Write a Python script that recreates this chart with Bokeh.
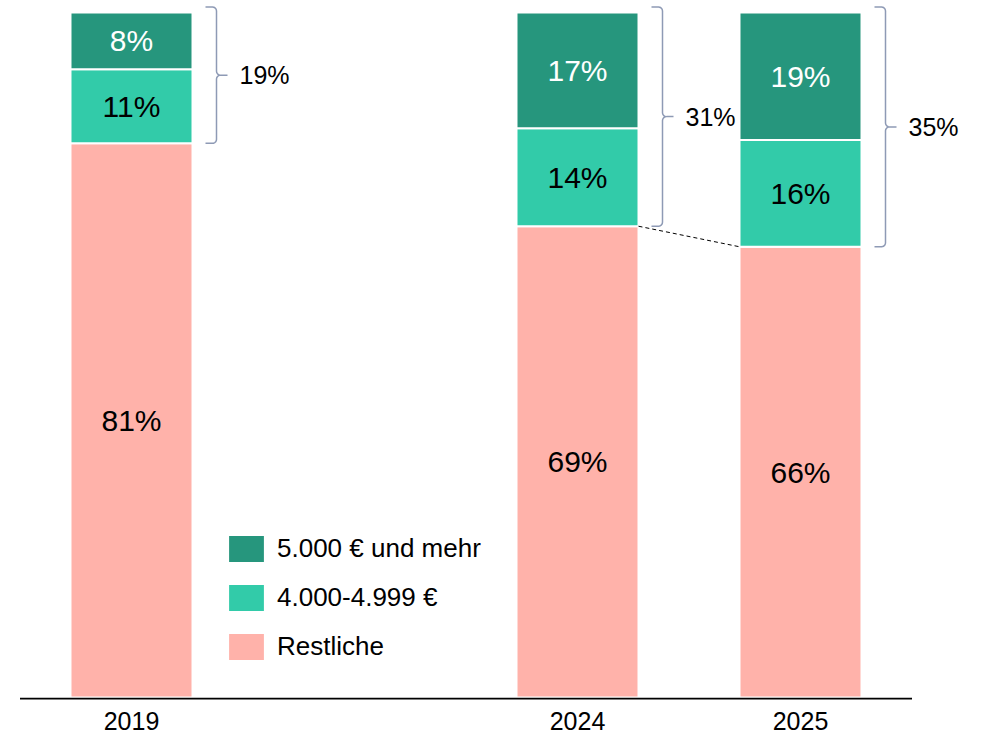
import numpy as np
from bokeh.plotting import figure
from bokeh.models import ColumnDataSource, Range1d, Legend, LegendItem
from bokeh.core.properties import value
from bokeh.embed import file_html
from bokeh.resources import INLINE

# ---------------- data ----------------
years = ["2019", "2024", "2025"]
slots = [0, 2, 3]                      # 2019 is set apart by one empty slot
series = ["Restliche", "4.000-4.999 €", "5.000 € und mehr"]
restliche = [80.9, 68.8, 65.8]
band_4000 = [10.8, 14.3, 15.6]
band_5000 = [8.3, 16.9, 18.6]
top_two_share = [19, 31, 35]           # bracket totals as printed

colors = ["#FFB2AA", "#32CBA9", "#26967D"]
label_colors = ["black", "black", "white"]
FONT = "Liberation Sans"

# ---------------- figure ----------------
W, H = 990, 736
X0, Y0 = 131.0, 697.0   # pixel of slot 0 / value 0
PX_X = 223.0            # pixels per slot
PX_Y = 6.85             # pixels per percent
p = figure(width=W, height=H,
           x_range=Range1d(-X0 / PX_X, (W - X0) / PX_X),
           y_range=Range1d((Y0 - H) / PX_Y, Y0 / PX_Y),
           x_axis_location=None, y_axis_location=None,
           output_backend="svg", toolbar_location=None, min_border=0)
p.grid.visible = False
p.outline_line_color = None
p.background_fill_color = "white"

bw = 122 / PX_X
stack = [restliche, band_4000, band_5000]
bottom = np.zeros(3)
renderers = []
for vals, col, lc in zip(stack, colors, label_colors):
    vals = np.array(vals, dtype=float)
    top = bottom + vals
    src = ColumnDataSource(dict(x=slots, bottom=bottom, top=top,
                                mid=(bottom + top) / 2,
                                lab=[f"{v:.0f}%" for v in vals]))
    r = p.vbar(x="x", bottom="bottom", top="top", width=bw, source=src,
               fill_color=col, line_color="white", line_width=2)
    renderers.append(r)
    p.text(x="x", y="mid", text="lab", source=src, text_align="center",
           text_baseline="middle", text_font=value(FONT),
           text_font_size="30px", text_color=lc)
    bottom = top

# baseline
p.segment(x0=[min(slots) - 0.5], x1=[max(slots) + 0.5], y0=[-0.15], y1=[-0.15],
          line_color="black", line_width=1.8)

# dashed connector between 2024 and 2025 "Restliche"
p.segment(x0=[slots[1] + bw / 2], y0=[restliche[1]],
          x1=[slots[2] - bw / 2], y1=[restliche[2]],
          line_color="black", line_width=1, line_dash="4 3")

# braces
def brace(xc, ybot, ytop):
    L, V, T, r = 74, 85, 96, 4
    rx, ry = r / PX_X, r / PX_Y
    ymid = (ybot + ytop) / 2
    xs, ys = [], []
    def arc(cx, cy, a0, a1):
        for a in np.linspace(a0, a1, 6):
            xs.append(cx + rx * np.cos(a))
            ys.append(cy + ry * np.sin(a))
    xL, xV, xT = xc + L / PX_X, xc + V / PX_X, xc + T / PX_X
    xs.append(xL); ys.append(ytop)
    arc(xV - rx, ytop - ry, np.pi / 2, 0)
    arc(xV + rx, ymid + ry, np.pi, 3 * np.pi / 2)
    xs.append(xT); ys.append(ymid)
    arc(xV + rx, ymid - ry, np.pi / 2, np.pi)
    arc(xV - rx, ybot + ry, 0, -np.pi / 2)
    xs.append(xL); ys.append(ybot)
    return xs, ys, xc + 108 / PX_X, ymid

bx, by, lx, ly, lt = [], [], [], [], []
for xc, rb, s in zip(slots, restliche, top_two_share):
    xs, ys, tx, ty = brace(xc, rb, 100.8)
    bx.append(xs); by.append(ys); lx.append(tx); ly.append(ty); lt.append(f"{s}%")
p.multi_line(xs=bx, ys=by, line_color="#8E9AB5", line_width=1.5)
p.text(x=lx, y=ly, text=lt, text_align="left", text_baseline="middle",
       text_font=value(FONT), text_font_size="25px", text_color="black")

# year labels
p.text(x=slots, y=[-3.4] * 3, text=years, text_align="center",
       text_baseline="middle", text_font=value(FONT), text_font_size="25px",
       text_color="black")

legend = Legend(items=[LegendItem(label=series[2], renderers=[renderers[2]]),
                       LegendItem(label=series[1], renderers=[renderers[1]]),
                       LegendItem(label=series[0], renderers=[renderers[0]])],
                location=(223, 72), glyph_width=46, glyph_height=35,
                label_text_font=FONT, label_text_font_size="26px",
                label_text_color="black",
                label_standoff=8, spacing=14, padding=0, margin=0,
                border_line_color=None, background_fill_alpha=0)
p.add_layout(legend)

open("out.html", "w").write(file_html(p, INLINE))
